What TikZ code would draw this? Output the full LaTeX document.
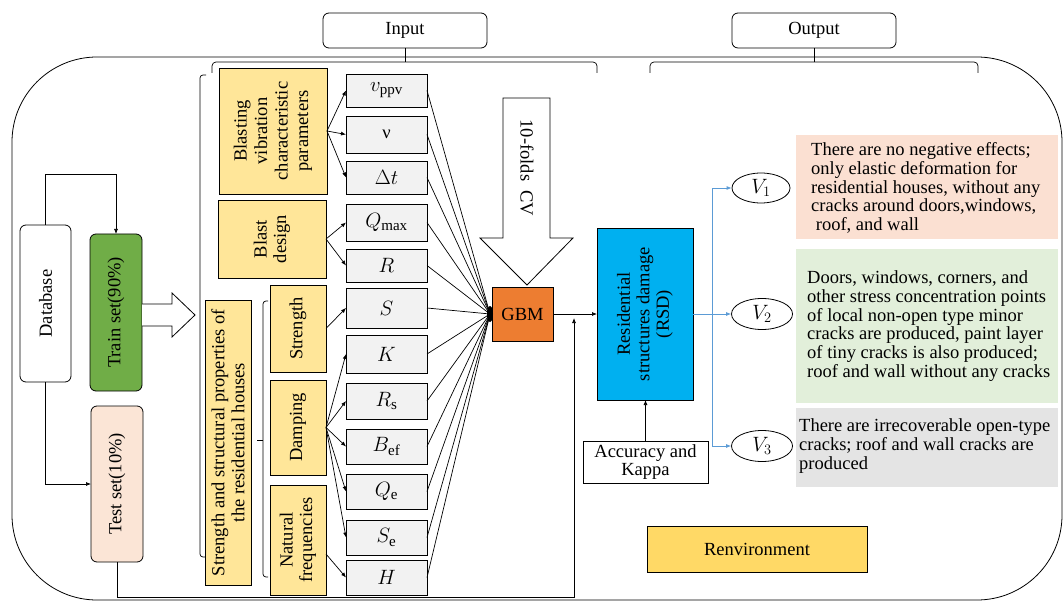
\documentclass[tikz,border=0pt]{standalone}
\usepackage{fontspec}
\setmainfont{Liberation Serif}
\usetikzlibrary{arrows.meta,calc,shapes.geometric}
\definecolor{ylw}{HTML}{FFE699}
\definecolor{ylwd}{HTML}{FFD966}
\definecolor{vgray}{HTML}{F2F2F2}
\definecolor{grn}{HTML}{70AD47}
\definecolor{pch}{HTML}{FBE5D6}
\definecolor{org}{HTML}{ED7D31}
\definecolor{cyn}{HTML}{00B0F0}
\definecolor{bxa}{HTML}{FBE0D2}
\definecolor{bxb}{HTML}{E2EFDA}
\definecolor{bxc}{HTML}{E4E4E4}
\definecolor{bline}{HTML}{5B9BD5}
\newcommand{\fsz}{\fontsize{18.5}{19.5}\selectfont}
\newcommand{\msz}{\fontsize{21.5}{22}\selectfont}
\newcommand{\bx}[7]{\node[#2, anchor=north west, minimum width={(#5-#3)*1pt}, minimum height={(#6-#4)*1pt}] (#1) at (#3,#4) {#7};}
\tikzset{
  base/.style={draw, line width=0.8pt, inner sep=1pt, outer sep=0pt, font=\fsz, align=center},
  rbox/.style={base, rounded corners=6pt, fill=white},
  ybox/.style={base, fill=ylw},
  vbox/.style={base, fill=vgray, font=\msz},
  tbox/.style={inner sep=0pt, outer sep=0pt},
  rot/.style={rotate=90, align=center, font=\fsz, inner sep=0pt},
  txt/.style={align=left, font=\fontsize{18.5}{18.7}\selectfont, inner sep=0pt, anchor=west},
  ell/.style={ellipse, draw, line width=0.8pt, inner sep=0pt, fill=white, font=\msz},
  arr/.style={-{Latex[length=5pt,width=4pt]}, line width=0.7pt},
  ln/.style={line width=0.7pt},
  blarr/.style={-{Latex[length=5pt,width=4pt]}, line width=0.8pt, draw=bline},
}
\begin{document}
\begin{tikzpicture}[x=1pt,y=-1pt]
\useasboundingbox (0,0) rectangle (1064,601);
% outer frame
\draw[line width=0.8pt, rounded corners=85pt] (12,57) rectangle (1062,600);
% top boxes
\bx{inp}{rbox}{323}{13}{487}{48}{Input}
\bx{outp}{rbox}{732}{13}{896}{48}{Output}
\coordinate (ib) at (405,62);
\coordinate (ob) at (814,62);
\draw[ln] (inp.south) -- (ib);
\draw[ln] (outp.south) -- (ob);
\draw[ln, rounded corners=4pt] (212,73) -- (212,62) -- (597,62) -- (597,73);
\draw[ln, rounded corners=4pt] (650,73) -- (650,62) -- (978,62) -- (978,73);
% left column
\bx{db}{rbox}{20}{225}{71}{382}{}
\node[rot] (dbT) at (db) {Database};
\bx{train}{rbox, fill=grn}{90}{234}{142}{391}{}
\node[rot] (trainT) at (train) {Train set(90\%)};
\bx{test}{rbox, fill=pch}{91}{406}{143}{562}{}
\node[rot] (testT) at (test) {Test set(10\%)};
\draw[arr] (db.north) -- ++(0,-51) -| (train.north);
\draw[arr] (db.south) |- (test.west);
% hollow arrow train -> inputs
\draw[line width=0.8pt, fill=white] (142,304) -- (172,304) -- (172,293) -- (195,315) -- (172,337) -- (172,326) -- (142,326);
% braces
\draw[ln, rounded corners=3pt] (206,75) -- (200,75) -- (200,557) -- (206,557);
\draw[ln, rounded corners=3pt] (268,301) -- (263,301) -- (263,577) -- (268,577);
\draw[ln] (263,440) -- (257,440);
% yellow category boxes
\bx{blast}{ybox}{219}{68}{327}{194}{}
\node[rot, font=\fontsize{18.5}{20.5}\selectfont] (blastT) at (blast) {Blasting\\vibration\\characteristic\\parameters};
\bx{design}{ybox}{218}{200}{326}{278}{}
\node[rot] (designT) at (design) {Blast\\design};
\bx{ssp}{ybox}{205}{300}{251}{585}{}
\node[rot, font=\fontsize{18.5}{20}\selectfont] (sspT) at (ssp) {Strength and structural properties of\\the residential houses};
\bx{str}{ybox}{270}{285}{326}{372}{}
\node[rot] (strT) at (str) {Strength};
\bx{damp}{ybox}{270}{380}{326}{475}{}
\node[rot] (dampT) at (damp) {Damping};
\bx{nat}{ybox}{270}{485}{326}{595}{}
\node[rot] (natT) at (nat) {Natural\\frequencies};
% variable boxes
\bx{vppv}{vbox}{346}{74}{427}{107}{$v_{\mathrm{ppv}}$}
\bx{nu}{vbox}{346}{116}{427}{153}{\fsz ν}
\bx{dt}{vbox}{346}{161}{427}{194}{$\Delta t$}
\bx{qmax}{vbox}{346}{204}{427}{241}{$Q_{\mathrm{max}}$}
\bx{R}{vbox}{346}{249}{427}{282}{$R$}
\bx{S}{vbox}{346}{288}{427}{328}{$S$}
\bx{K}{vbox}{346}{335}{427}{373}{$K$}
\bx{Rs}{vbox}{346}{383}{427}{419}{$R_{\mathrm{s}}$}
\bx{Bef}{vbox}{346}{429}{427}{464}{$B_{\mathrm{ef}}$}
\bx{Qe}{vbox}{346}{474}{427}{509}{$Q_{\mathrm{e}}$}
\bx{Se}{vbox}{346}{520}{427}{555}{$S_{\mathrm{e}}$}
\bx{H}{vbox}{346}{560}{427}{595}{$H$}
% category -> variable arrows
\foreach \v in {vppv,nu,dt} \draw[arr] (blast.east) -- (\v.west);
\foreach \v in {qmax,R} \draw[arr] (design.east) -- (\v.west);
\draw[arr] (str.east) -- (S.west);
\foreach \v in {K,Rs,Bef,Qe,Se} \draw[arr] (damp.east) -- (\v.west);
\draw[arr] ($(nat.east)+(0,14)$) -- (H.west);
% GBM
\bx{gbm}{base, fill=org}{492}{287}{553}{341}{GBM}
\coordinate (hub) at ($(gbm.west)+(-2,0)$);
\foreach \v in {vppv,nu,dt,qmax,R,S,K,Rs,Bef,Qe,Se,H} \draw[ln] (\v.east) -- (hub);
\fill (hub) ellipse [x radius=3pt, y radius=8pt];
% 10-folds CV arrow
\draw[line width=0.8pt, fill=white] (503,98) -- (550,98) -- (550,238) -- (573,238) -- (527,285) -- (480,238) -- (503,238) -- cycle;
\node[rotate=-90, font=\fsz, inner sep=0pt] (cvT) at (527,168) {10-folds\ \ CV};
% RSD
\bx{rsd}{base, fill=cyn}{597}{228}{693}{400}{}
\node[rot] (rsdT) at (rsd) {Residential\\structures damage\\(RSD)};
\draw[arr] (gbm.east) -- (gbm.east -| rsd.west);
\bx{acc}{base, fill=white, font=\fontsize{18.5}{18}\selectfont}{583}{441}{708}{483}{Accuracy and\\Kappa}
\draw[arr] (acc.north) -- (acc.north |- rsd.south);
% test set path to junction
\coordinate (tj) at (574,597);
\coordinate (tk) at (574,318);
\draw[arr] (test.south) |- (tj) -- (tk);
% outputs
\node[ell, minimum width=58pt, minimum height=30pt] (v1) at (761,188) {$V_1$};
\node[ell, minimum width=61pt, minimum height=31pt] (v2) at (762,314) {$V_2$};
\node[ell, minimum width=61pt, minimum height=31pt] (v3) at (762,446) {$V_3$};
\coordinate (bs) at ($(rsd.east)+(19,0)$);
\draw[line width=0.8pt, draw=bline] (rsd.east) -- (bs);
\draw[blarr] (bs) |- (v1.west);
\draw[blarr] (bs) -- (v2.west);
\draw[blarr] (bs) |- (v3.west);
% description boxes
\bx{ta}{tbox, fill=bxa}{796}{135}{1058}{239}{}
\node[txt] (taT) at (811,188) {There are no negative effects;\\only elastic deformation for\\residential houses, without any\\cracks around doors,windows,\\\ roof, and wall};
\bx{tb}{tbox, fill=bxb}{796}{249}{1058}{403}{}
\node[txt] (tbT) at (807,326) {Doors, windows, corners, and\\other stress concentration points\\of local non-open type minor\\cracks are produced, paint layer\\of tiny cracks is also produced;\\roof and wall without any cracks};
\bx{tc}{tbox, fill=bxc}{796}{408}{1058}{487}{}
\node[txt] (tcT) at (799,446) {There are irrecoverable open-type\\cracks; roof and wall cracks are\\produced};
% environment
\bx{renv}{base, fill=ylwd}{647}{526}{867}{572}{Renvironment}
\end{tikzpicture}
\end{document}
